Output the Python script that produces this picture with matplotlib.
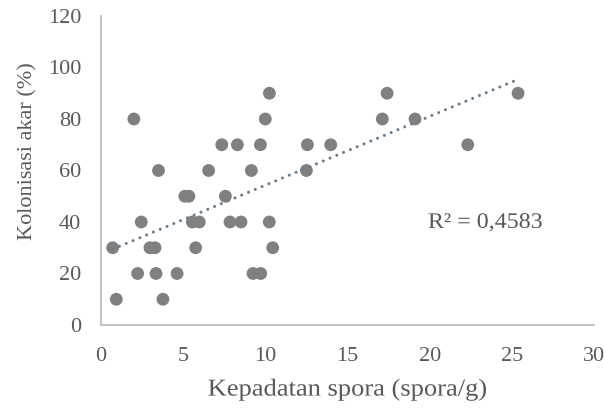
import numpy as np
import matplotlib
matplotlib.use("Agg")
import matplotlib.pyplot as plt
from matplotlib.patheffects import AbstractPathEffect
from matplotlib.transforms import Affine2D

# Data: Kepadatan spora (spora/g) vs Kolonisasi akar (%)
spora = [10.25, 2.0, 10.0, 7.35, 8.3, 9.7, 3.5, 6.55, 9.15,
         5.1, 5.35, 7.57, 2.45, 5.56, 5.98, 7.85, 8.52, 10.24,
         0.71, 2.98, 3.29, 5.76, 10.45, 2.23, 3.35, 4.63, 9.25, 9.72,
         0.93, 3.77,
         17.41, 17.12, 19.11, 12.56, 13.98, 22.32, 12.5, 25.38]
kolonisasi = [90, 80, 80, 70, 70, 70, 60, 60, 60,
              50, 50, 50, 40, 40, 40, 40, 40, 40,
              30, 30, 30, 30, 30, 20, 20, 20, 20, 20,
              10, 10,
              90, 80, 80, 70, 70, 70, 60, 90]
r2_text = "R² = 0,4583"
xticks = [0, 5, 10, 15, 20, 25, 30]
yticks = [0, 20, 40, 60, 80, 100, 120]


class Stretch(AbstractPathEffect):
    """Stretch text glyphs horizontally (along the text direction)."""
    def __init__(self, sx, anchor='center'):
        super().__init__()
        self.sx = sx
        self.anchor = anchor

    def draw_path(self, renderer, gc, tpath, affine, rgbFace=None):
        ext = tpath.get_extents()
        if self.anchor == 'left':
            cx = ext.x0
        elif self.anchor == 'right':
            cx = ext.x1
        else:
            cx = (ext.x0 + ext.x1) / 2
        a = Affine2D().translate(-cx, 0).scale(self.sx, 1).translate(cx, 0) + affine
        renderer.draw_path(gc, tpath, a, rgbFace)


plt.rcParams['font.family'] = ['Liberation Serif', 'DejaVu Serif']
txt = '#595959'
fs = 16

fig = plt.figure(figsize=(6.04, 4.09), dpi=100)
ax = fig.add_axes([0.1672, 0.2054, 0.8162, 0.7555])

x = np.array(spora)
y = np.array(kolonisasi)
ax.scatter(x, y, s=85, color='#808080', edgecolors='none', zorder=3)

m, b = np.polyfit(x, y, 1)
xl = np.array([x.min(), x.max()])
ax.plot(xl, m * xl + b, color='#6b7b8e', lw=2.2,
        linestyle=(0, (0.01, 2.4)), dash_capstyle='round', zorder=4)

r2 = ax.text(19.9, 37.7, r2_text, fontsize=fs, color=txt, va='baseline', ha='left')
r2.set_path_effects([Stretch(1.08, 'left')])

ax.set_xlim(0, 30)
ax.set_ylim(0, 120)
ax.set_xticks(xticks)
ax.set_yticks(yticks)
ax.tick_params(length=0, labelsize=fs, colors=txt)
ax.tick_params(axis='x', pad=15.5)
ax.tick_params(axis='y', pad=14.4)
for s in ['top', 'right']:
    ax.spines[s].set_visible(False)
for s in ['left', 'bottom']:
    ax.spines[s].set_color('#bfbfbf')
    ax.spines[s].set_linewidth(1.3)

ax.set_xlabel('Kepadatan spora (spora/g)', fontsize=17.5, color=txt, labelpad=10)
ax.set_ylabel('Kolonisasi akar (%)', fontsize=fs, color=txt, labelpad=7)
ax.xaxis.label.set_path_effects([Stretch(1.09, 'center')])
ax.yaxis.label.set_y(0.563)

fig.savefig('out.png', dpi=100)
